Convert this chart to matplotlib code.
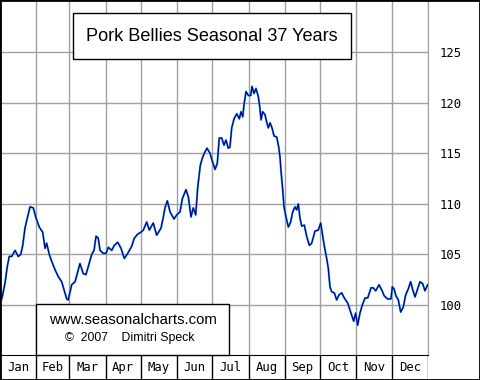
import matplotlib
matplotlib.use("Agg")
import matplotlib.pyplot as plt
from matplotlib.patches import Rectangle

# seasonal pattern, x = day of year, y = index value
days = [0, 2.3, 4.3, 6.2, 7.9, 10.0, 12.8, 15.6, 17.7, 19.4, 21.3, 23.3, 25.6, 28.4,
        30.7, 33.5, 36.4, 38.4, 39.8, 42.0, 44.1, 46.9, 49.7, 52.6, 54.6, 56.9, 58.2,
        61.1, 64.0, 68.2, 71.0, 73.3, 75.3, 78.2, 80.2, 81.9, 83.8, 85.3, 88.1, 90.4,
        92.4, 95.3, 97.5, 100.4, 103.2, 106.0, 108.9, 112.3, 114.5, 117.4, 120.2,
        122.2, 125.1, 127.3, 130.7, 133.6, 137.3, 139.3, 140.7, 142.7, 145.0, 148.4,
        150.7, 153.5, 155.5, 158.6, 160.6, 162.9, 164.8, 166.9, 168.6, 170.8, 172.5,
        174.2, 176.5, 179.1, 181.1, 183.4, 185.3, 187.0, 189.1, 191.0, 192.7, 194.7,
        196.1, 197.6, 199.6, 201.9, 204.1, 205.5, 207.0, 208.1, 209.8, 211.8, 213.8,
        214.9, 216.6, 218.3, 220.3, 221.7, 222.6, 224.0, 226.0, 227.4, 228.8, 230.3,
        232.0, 233.7, 236.0, 237.7, 238.8, 239.6, 241.1, 242.2, 243.9, 245.9, 247.9,
        249.6, 251.6, 253.0, 254.4, 255.8, 257.3, 259.5, 261.5, 263.8, 265.8, 268.6,
        271.4, 273.5, 274.8, 276.6, 278.6, 280.0, 281.4, 282.9, 285.1, 287.1, 289.1,
        291.4, 293.6, 296.5, 299.3, 301.6, 303.3, 305.0, 307.0, 309.0, 311.3, 313.6,
        316.4, 318.3, 320.4, 323.2, 325.5, 327.7, 330.6, 333.4, 334.6, 336.0, 337.7,
        339.7, 341.7, 343.9, 346.0, 348.2, 350.2, 352.0, 353.9, 356.2, 358.2, 360.5,
        362.4, 364.7]
values = [100.0, 101.0, 102.2, 103.8, 104.8, 104.8, 105.4, 104.8, 105.0, 105.9, 107.6,
          108.6, 109.7, 109.6, 108.6, 107.7, 107.2, 105.6, 106.1, 105.0, 104.3, 103.5,
          102.8, 102.3, 101.5, 100.6, 100.5, 102.0, 102.3, 104.1, 103.1, 103.0, 103.8,
          105.0, 105.4, 106.8, 106.6, 105.4, 105.1, 105.1, 105.7, 105.4, 105.9, 106.2,
          105.6, 104.6, 105.1, 105.8, 106.6, 107.0, 107.2, 107.4, 108.2, 107.4, 108.1,
          106.9, 107.6, 108.7, 109.6, 110.3, 109.2, 108.5, 108.9, 109.2, 110.5, 111.4,
          110.7, 108.7, 109.6, 108.9, 111.6, 113.8, 114.5, 115.0, 115.5, 115.0, 114.2,
          113.4, 114.0, 116.5, 116.5, 115.8, 116.3, 115.5, 115.6, 117.5, 118.4, 118.9,
          118.4, 119.1, 118.6, 119.8, 121.1, 120.7, 120.7, 121.6, 120.9, 121.4, 120.6,
          119.4, 118.3, 119.1, 118.8, 118.1, 117.5, 118.0, 117.5, 116.7, 116.6, 115.6,
          114.6, 113.3, 111.4, 109.7, 108.7, 107.7, 108.2, 109.2, 109.7, 109.4, 110.0,
          108.6, 107.8, 107.9, 106.8, 105.9, 106.1, 107.3, 107.4, 108.1, 107.1, 105.8,
          104.6, 103.6, 101.8, 101.3, 101.2, 100.5, 101.0, 101.2, 100.7, 100.2, 99.2,
          98.4, 99.2, 98.0, 99.2, 100.0, 100.7, 100.7, 101.7, 101.7, 101.4, 102.0,
          101.5, 100.9, 100.6, 100.6, 101.8, 101.6, 100.9, 100.5, 99.3, 99.8, 101.0,
          101.6, 102.3, 101.5, 100.8, 101.6, 102.3, 102.1, 101.4, 102.0]

months = ["Jan", "Feb", "Mar", "Apr", "May", "Jun", "Jul", "Aug", "Sep", "Oct", "Nov", "Dec"]
month_len = [31, 28, 31, 30, 31, 30, 31, 31, 30, 31, 30, 31]
y_ticks = [100, 105, 110, 115, 120, 125]

edges = [0]
for n in month_len:
    edges.append(edges[-1] + n)

W, H = 480, 380
fig = plt.figure(figsize=(W / 100, H / 100), dpi=100)

def fx(px):
    return px / W

def fy(py):
    return 1 - py / H

grid_col = "#a0a0a0"
mono = "DejaVu Sans Mono"

ax = fig.add_axes([0, fy(355), fx(428), fy(0) - fy(355)])
ax.plot(days, values, color="#3ab0d8", lw=1.5, zorder=3)
ax.plot(days, values, color="#000099", lw=0.9, zorder=4)
ax.set_xlim(0, 365)
ax.set_ylim(95.06, 130.14)
ax.set_xticks(edges)
ax.set_yticks(y_ticks)
ax.grid(True, color=grid_col, lw=1.0)
ax.set_axisbelow(True)
ax.tick_params(axis="x", length=0, labelbottom=False)
ax.yaxis.tick_right()
ax.tick_params(axis="y", length=0, pad=8.5, labelsize=8.8)
for lab in ax.get_yticklabels():
    lab.set_fontfamily(mono)
ax.spines["right"].set_color(grid_col)
ax.spines["left"].set_color("black")
ax.spines["top"].set_visible(False)
ax.spines["bottom"].set_color("black")

# month strip
sx = fig.add_axes([0, 0, fx(428), fy(355)])
sx.set_xlim(0, 365)
sx.set_ylim(0, 1)
sx.axis("off")
for e in edges[1:]:
    sx.axvline(e, color="black", lw=1.0)
for i, m in enumerate(months):
    sx.text((edges[i] + edges[i + 1]) / 2, 0.5, m, ha="center", va="center",
            fontsize=8.8, family=mono)

# title box
fig.patches.append(Rectangle((fx(73), fy(59)), fx(351) - fx(73), fy(13) - fy(59),
                             transform=fig.transFigure, facecolor="white",
                             edgecolor="black", lw=1.0, zorder=10))
fig.text(fx(212), fy(36.5), "Pork Bellies Seasonal 37 Years", ha="center", va="center",
         fontsize=13.1, family="Liberation Sans", zorder=11)

# watermark box
fig.patches.append(Rectangle((fx(36), fy(355)), fx(229) - fx(36), fy(304) - fy(355),
                             transform=fig.transFigure, facecolor="white",
                             edgecolor="black", lw=1.0, zorder=10))
fig.text(fx(132.5), fy(320), "www.seasonalcharts.com", ha="center", va="center",
         fontsize=10.7, family="Liberation Sans", zorder=11)
fig.text(fx(130), fy(338), "©  2007    Dimitri Speck", ha="center", va="center",
         fontsize=8.8, family="Liberation Sans", zorder=11)

# outer frame
fig.patches.append(Rectangle((0, 0), 1, 1, transform=fig.transFigure, fill=False,
                             edgecolor="black", lw=2.0, zorder=12))

fig.savefig("out.png", dpi=100)
